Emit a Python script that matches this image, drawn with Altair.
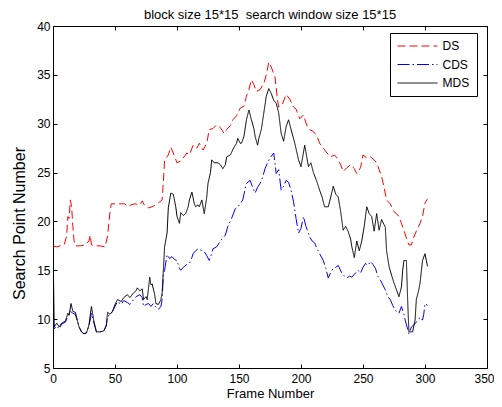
import altair as alt
import pandas as pd

title_text = "block size 15*15\u00a0 search window size 15*15"
methods = ["DS", "CDS", "MDS"]
colors = ["#ff0000", "#0000ff", "#000000"]
dashes = [[8, 4], [12, 3, 1.5, 3], [1, 0]]
x_ticks = [0, 50, 100, 150, 200, 250, 300, 350]
y_ticks = [5, 10, 15, 20, 25, 30, 35, 40]

ds_frames = [0, 3, 6, 9, 11, 12, 13, 14, 15, 16, 17, 18, 22, 26, 29, 30, 31, 34, 38, 42, 44, 46, 47, 50,
             55, 58, 60, 63, 66, 70, 72, 74, 77, 80, 84, 86, 88, 89, 90, 93, 95, 97, 100, 103, 105, 108,
             110, 113, 116, 118, 121, 124, 126, 129, 132, 135, 138, 140, 143, 145, 148, 151, 154, 156,
             158, 160, 162, 164, 167, 170, 172, 174, 176, 179, 181, 182, 185, 188, 191, 194, 196, 199,
             202, 205, 207, 210, 213, 215, 218, 221, 224, 227, 229, 232, 234, 237, 240, 243, 245, 248,
             250, 253, 256, 259, 261, 263, 265, 267, 269, 272, 275, 277, 279, 281, 283, 285, 287, 289,
             291, 293, 296, 298, 300, 302]
ds_values = [17.5, 17.4, 17.5, 17.6, 18.5, 20.5, 20.3, 22.2, 21.5, 19.5, 18.0, 17.5, 17.5, 17.6, 18.0,
             18.6, 17.6, 17.5, 17.5, 17.4, 18.5, 21.0, 21.8, 21.8, 21.8, 21.8, 21.5, 21.7, 21.8, 21.7,
             22.1, 21.6, 21.4, 21.5, 21.8, 22.0, 22.2, 24.0, 26.3, 26.8, 27.6, 27.0, 26.0, 26.2, 26.5,
             27.0, 26.8, 27.8, 27.5, 28.0, 27.3, 28.0, 29.4, 29.5, 29.9, 29.6, 29.0, 29.4, 29.8, 30.4,
             30.8, 31.6, 31.8, 32.8, 33.5, 34.5, 34.0, 33.3, 33.5, 34.1, 35.0, 36.3, 35.8, 34.8, 32.5,
             31.7, 32.0, 33.0, 32.5, 31.7, 31.5, 30.5, 30.9, 29.7, 29.4, 29.2, 28.7, 28.0, 27.5, 27.0,
             26.6, 26.8, 26.5, 25.8, 25.1, 25.5, 25.8, 25.4, 24.9, 25.5, 26.8, 26.5, 26.6, 26.3, 26.0,
             25.3, 24.6, 23.5, 22.2, 21.8, 21.0, 20.8, 20.5, 19.8, 19.1, 18.3, 17.6, 17.6, 18.4, 19.0,
             19.8, 20.5, 21.9, 22.3]

cds_frames = [0, 1, 3, 5, 7, 10, 12, 14, 16, 18, 19, 21, 23, 25, 27, 29, 31, 33, 35, 38, 41, 43, 44, 46,
              48, 50, 52, 55, 57, 60, 62, 65, 67, 70, 72, 73, 75, 77, 79, 81, 83, 85, 87, 88, 89, 90, 92,
              94, 96, 98, 100, 102, 103, 105, 108, 110, 112, 113, 115, 117, 120, 122, 124, 126, 127, 129,
              132, 135, 137, 139, 141, 144, 147, 149, 151, 153, 156, 159, 161, 163, 165, 167, 169, 171,
              173, 175, 178, 180, 182, 184, 186, 188, 190, 192, 194, 196, 198, 200, 202, 204, 207, 209,
              211, 213, 215, 218, 220, 222, 224, 226, 228, 230, 233, 235, 237, 239, 241, 243, 246, 248,
              250, 252, 254, 256, 258, 260, 262, 264, 266, 268, 270, 272, 274, 276, 279, 281, 283, 284,
              286, 287, 289, 291, 293, 295, 296, 298, 299, 300, 302]
cds_values = [10.0, 9.0, 9.3, 9.0, 9.5, 9.7, 10.3, 10.8, 10.6, 10.5, 10.1, 9.2, 8.7, 8.5, 8.6, 9.3, 10.6,
              9.6, 8.7, 8.7, 8.8, 9.4, 10.3, 10.4, 10.8, 11.3, 11.8, 11.5, 11.9, 11.7, 11.5, 12.0, 12.3,
              12.5, 12.2, 11.3, 11.5, 11.6, 11.3, 11.6, 11.2, 11.0, 11.3, 12.0, 14.5, 15.0, 16.6, 16.2,
              16.4, 16.1, 16.0, 15.2, 15.0, 15.3, 15.6, 15.7, 16.3, 16.7, 17.0, 17.2, 17.0, 16.9, 16.5,
              16.0, 16.3, 17.2, 17.4, 18.0, 18.3, 18.6, 19.5, 20.3, 21.3, 21.5, 21.8, 22.2, 23.9, 24.2,
              23.5, 22.9, 23.5, 23.9, 24.5, 25.4, 26.0, 26.5, 27.0, 24.9, 25.3, 23.2, 23.6, 24.2, 24.0,
              23.2, 22.0, 20.3, 18.8, 19.3, 20.5, 19.5, 18.4, 18.0, 17.8, 17.2, 16.7, 16.0, 15.2, 14.2,
              14.8, 15.2, 15.3, 15.5, 14.7, 14.4, 14.2, 14.4, 14.3, 14.6, 15.0, 14.7, 15.3, 15.7, 15.5,
              15.9, 15.6, 15.2, 14.4, 14.0, 13.5, 13.0, 12.3, 12.0, 11.4, 10.9, 10.6, 11.3, 10.5, 9.9,
              9.0, 8.5, 9.2, 9.4, 9.7, 10.0, 10.2, 9.9, 10.5, 11.6, 11.4]

mds_frames = [0, 1, 3, 5, 7, 10, 12, 13, 14.5, 16, 18, 19, 21, 23, 25, 27, 29, 31, 33, 35, 38, 41, 43, 44,
              46, 48, 50, 52, 55, 57, 60, 62, 65, 67, 68, 70, 72, 73, 75, 76, 78, 79, 80, 82, 83, 85, 87,
              88, 89, 90, 92, 93, 95, 97, 99, 100, 102, 103, 105, 107, 109, 110, 112, 114, 115, 117, 118,
              120, 121, 122, 124, 125, 127, 128, 130, 133, 135, 137, 139, 140, 143, 146, 148, 149, 151,
              152, 154, 156, 158, 160, 162, 163, 165, 166, 168, 170, 172, 174, 176, 178, 180, 182, 184,
              186, 188, 190, 192, 195, 198, 200, 203, 206, 208, 210, 213, 215, 217, 219, 222, 224, 226,
              228, 230, 232, 234, 236, 238, 240, 241, 243, 245, 247, 249, 251, 253, 255, 257, 259, 261,
              263, 265, 268, 269, 271, 273, 275, 277, 279, 281, 282, 283, 285, 286, 287, 290, 292, 293,
              295, 296, 298, 300, 302]
mds_values = [17.5, 9.2, 9.6, 9.2, 9.6, 9.8, 10.6, 10.4, 11.6, 10.8, 10.7, 10.2, 9.2, 8.7, 8.5, 8.6, 9.4,
              11.3, 9.8, 8.7, 8.7, 8.8, 9.3, 10.7, 10.5, 10.8, 11.5, 12.0, 11.8, 12.2, 12.5, 12.2, 12.7,
              12.9, 13.2, 12.9, 13.1, 12.0, 12.3, 12.0, 14.3, 13.5, 13.6, 12.5, 11.6, 11.5, 12.0, 12.7,
              15.0, 17.4, 18.8, 21.4, 22.9, 22.8, 21.5, 20.5, 19.8, 20.9, 20.6, 20.8, 21.5, 22.2, 23.0,
              21.8, 21.5, 21.7, 21.5, 22.2, 21.5, 20.8, 22.5, 23.9, 25.0, 26.3, 26.0, 26.0, 25.8, 25.4,
              25.8, 26.6, 26.8, 27.6, 28.0, 28.5, 28.0, 28.0, 28.7, 30.4, 31.4, 30.4, 29.5, 28.7, 27.8,
              28.5, 29.4, 31.1, 32.8, 33.6, 33.1, 32.4, 32.1, 31.1, 29.0, 28.2, 29.7, 30.4, 29.4, 28.0,
              26.3, 25.6, 27.8, 25.6, 26.0, 25.0, 24.0, 23.2, 22.5, 21.5, 21.5, 22.5, 23.6, 22.8, 22.5,
              21.0, 19.1, 19.5, 19.0, 18.2, 17.4, 16.3, 18.0, 17.0, 18.0, 19.5, 21.5, 20.8, 20.5, 19.0,
              20.8, 19.1, 20.2, 19.4, 17.0, 15.4, 14.5, 13.7, 13.0, 12.3, 13.3, 15.0, 16.0, 16.0, 12.0,
              8.7, 8.7, 9.9, 12.0, 13.0, 13.7, 16.0, 16.7, 15.4]

rows = []
for name, frames, values in [("DS", ds_frames, ds_values),
                             ("CDS", cds_frames, cds_values),
                             ("MDS", mds_frames, mds_values)]:
    for f, v in zip(frames, values):
        rows.append({"frame": f, "value": v, "method": name})
df = pd.DataFrame(rows)

FONT = "Liberation Sans, Arial, Helvetica, sans-serif"
x_scale = alt.Scale(domain=[0, 350], nice=False, zero=False)
y_scale = alt.Scale(domain=[5, 40], nice=False, zero=False)

legend = alt.Legend(
    title=None, orient="none", legendX=337, legendY=7,
    strokeColor="black", fillColor="white", padding=7,
    symbolType="M-4,0H4", symbolSize=100, symbolOffset=14.5, symbolStrokeWidth=1,
    labelOffset=19, labelFontSize=12, labelFont=FONT, labelColor="black",
    rowPadding=6.5,
)

lines = alt.Chart(df).mark_line(strokeWidth=1, clip=True).encode(
    x=alt.X("frame:Q", scale=x_scale,
            axis=alt.Axis(orient="bottom", values=x_ticks, title="Frame Number", offset=-4,
                          tickSize=4, domain=False, grid=False, labelPadding=5, titlePadding=3,
                          labelFontSize=12, titleFontSize=13, labelFlush=False,
                          labelOffset={"condition": {"test": "datum.value == 350", "value": -3},
                                       "value": 0})),
    y=alt.Y("value:Q", scale=y_scale,
            axis=alt.Axis(orient="left", values=y_ticks, title="Search Point Number", offset=-4,
                          tickSize=4, domain=False, grid=False, labelPadding=3, titlePadding=9,
                          labelFontSize=12, titleFontSize=16, titleY=197, labelFlush=False)),
    color=alt.Color("method:N", scale=alt.Scale(domain=methods, range=colors), legend=legend),
    strokeDash=alt.StrokeDash("method:N", scale=alt.Scale(domain=methods, range=dashes), legend=legend),
)

frame_axes = alt.Chart(df).mark_point(opacity=0).encode(
    x=alt.X("frame:Q", scale=x_scale,
            axis=alt.Axis(orient="top", values=x_ticks, labels=False, title=None, offset=-4,
                          tickSize=4, domain=False, grid=False)),
    y=alt.Y("value:Q", scale=y_scale,
            axis=alt.Axis(orient="right", values=y_ticks, labels=False, title=None, offset=-4,
                          tickSize=4, domain=False, grid=False)),
)

chart = alt.layer(lines, frame_axes).resolve_axis(x="independent", y="independent").properties(
    width=434, height=342,
    title=alt.TitleParams(title_text, fontSize=13, fontWeight="normal", font=FONT, color="black",
                          anchor="middle", offset=-2),
    autosize=alt.AutoSizeParams(type="none"),
    padding={"left": 45, "top": 18, "right": 7, "bottom": 31},
).configure_view(stroke="black", strokeWidth=1).configure_axis(
    labelFont=FONT, titleFont=FONT, labelColor="black", titleColor="black", tickColor="black",
    titleFontWeight="normal", tickWidth=1,
)

chart.save("out.html", embed_options={"renderer": "svg", "actions": False})
